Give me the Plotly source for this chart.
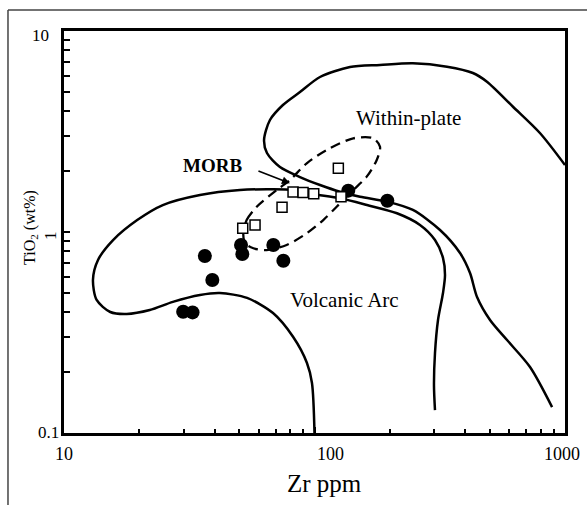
import math
import plotly.graph_objects as go

# ---- data (Zr ppm, TiO2 wt%) ----
circle_zr = [36.5, 39.1, 29.9, 32.6, 50.9, 51.5, 68.5, 75.1, 136.4, 195.3]
circle_ti = [0.760, 0.577, 0.401, 0.398, 0.862, 0.777, 0.862, 0.720, 1.606, 1.431]

square_zr = [51.7, 57.9, 74.2, 82.1, 90.0, 99.3, 124.5, 127.6]
square_ti = [1.043, 1.083, 1.327, 1.581, 1.572, 1.551, 2.074, 1.498]

arc_zr = [100, 97.7, 93.3, 82.1, 68.3, 53.8, 41.9, 34.9, 27.2, 22.0, 17.8, 15.3, 13.5,
          13.05, 13.67, 15.7, 19.6, 24.8, 34.9, 50.4, 68.3, 82.1, 98.6, 126.4, 162.0,
          213.4, 263.7, 302.7, 325.8, 331.9, 325.8, 311.2, 302.7, 299.9, 302.7]
arc_ti = [0.1, 0.1774, 0.223, 0.301, 0.395, 0.470, 0.497, 0.486, 0.449, 0.409, 0.391, 0.400, 0.459,
          0.577, 0.726, 0.912, 1.147, 1.362, 1.528, 1.618, 1.631, 1.618, 1.545, 1.471, 1.362,
          1.239, 1.084, 0.912, 0.743, 0.611, 0.497, 0.365, 0.250, 0.173, 0.130]

wp_zr = [1000, 794, 620, 488, 429, 338, 247, 182.6, 138.6, 105.2, 87.5, 74.8, 66.4, 62.9,
         64.6, 72.8, 87.5, 105.2, 126.4, 152, 194.8, 247, 317, 381, 417.7, 445.5, 502, 587, 725, 888]
wp_ti = [2.154, 3.108, 4.20, 5.594, 6.18, 6.645, 6.908, 6.776, 6.62, 5.904, 4.97, 4.285, 3.607, 2.87,
         2.472, 2.105, 1.877, 1.714, 1.587, 1.498, 1.416, 1.287, 1.023, 0.786, 0.625, 0.475, 0.365,
         0.290, 0.213, 0.1346]

morb_zr = [51.98, 53.6, 58.8, 70.7, 79.8, 93.1, 111.9, 142.8, 171.7, 182.6, 177.2, 161.6, 142.8,
           122.6, 108.4, 93.1, 77.4, 64.4, 57.0, 52.8, 51.98]
morb_ti = [0.985, 1.147, 1.336, 1.618, 1.815, 2.197, 2.559, 2.925, 2.925, 2.657, 2.282, 1.885, 1.618,
           1.336, 1.147, 0.985, 0.862, 0.813, 0.830, 0.879, 0.985]

x_ticks = [10, 100, 1000]
x_ticktext = ["10", "100", "1000"]
y_ticks = [0.1, 1, 10]
y_ticktext = ["0.1", "1", "10"]
x_minor = [m * d for d in (10, 100) for m in range(2, 10)]
y_minor = [m * d for d in (0.1, 1) for m in range(2, 10)]

SERIF = "Liberation Serif, Times New Roman, serif"

fig = go.Figure()
line_style = dict(color="black", width=2.5, shape="spline", smoothing=0.8)
fig.add_trace(go.Scatter(x=arc_zr, y=arc_ti, mode="lines", line=line_style, hoverinfo="skip"))
fig.add_trace(go.Scatter(x=wp_zr, y=wp_ti, mode="lines", line=line_style, hoverinfo="skip"))
fig.add_trace(go.Scatter(x=morb_zr, y=morb_ti, mode="lines",
                         line=dict(color="black", width=2.3, dash="10px,6px", shape="spline", smoothing=0.8),
                         hoverinfo="skip"))
fig.add_trace(go.Scatter(x=circle_zr, y=circle_ti, mode="markers",
                         marker=dict(symbol="circle", size=14, color="black")))
fig.add_trace(go.Scatter(x=square_zr, y=square_ti, mode="markers",
                         marker=dict(symbol="square", size=10, color="white",
                                     line=dict(color="black", width=1.5))))

ann = []
# x tick labels
x_shift = [0, 16, -3]
for v, t, s in zip(x_ticks, x_ticktext, x_shift):
    ann.append(dict(x=math.log10(v), y=0, xref="x", yref="paper", text=t, showarrow=False,
                    xanchor="center", yanchor="top", xshift=s, yshift=-9,
                    font=dict(family=SERIF, size=18, color="black")))
# y tick labels
y_opts = {"0.1": dict(xanchor="right", xshift=-3, yshift=1, textangle=0),
          "1": dict(xanchor="center", xshift=-14, yshift=-4, textangle=-90),
          "10": dict(xanchor="right", xshift=-13, yshift=-4, textangle=0)}
for v, t in zip(y_ticks, y_ticktext):
    o = y_opts[t]
    ann.append(dict(x=0, y=math.log10(v), xref="paper", yref="y", text=t, showarrow=False,
                    xanchor=o["xanchor"], yanchor="middle", xshift=o["xshift"], yshift=o["yshift"],
                    textangle=o["textangle"], font=dict(family=SERIF, size=17, color="black")))
# axis titles
ann.append(dict(x=0, y=0.51, xref="paper", yref="paper", text="TiO<sub>2</sub> (wt%)",
                showarrow=False, textangle=-90, xanchor="center", yanchor="middle", xshift=-33,
                font=dict(family=SERIF, size=16, color="black")))
ann.append(dict(x=0.52, y=0, xref="paper", yref="paper", text="Zr ppm", showarrow=False,
                xanchor="center", yanchor="middle", yshift=-50,
                font=dict(family=SERIF, size=25, color="black")))
# field labels
ann.append(dict(x=1.5928, y=0.3333, xref="x", yref="y", text="<b>MORB</b>", showarrow=False,
                font=dict(family=SERIF, size=19, color="black")))
ann.append(dict(x=2.3772, y=0.5672, xref="x", yref="y", text="Within-plate", showarrow=False,
                font=dict(family=SERIF, size=21, color="black")))
ann.append(dict(x=2.1198, y=-0.3383, xref="x", yref="y", text="Volcanic Arc", showarrow=False,
                font=dict(family=SERIF, size=21, color="black")))
# MORB arrow
ann.append(dict(x=1.902, y=0.2423, xref="x", yref="y", text=" ", showarrow=True,
                ax=-33, ay=-13, arrowhead=2, arrowsize=1, arrowwidth=1.6, arrowcolor="black",
                font=dict(size=1)))

axis_common = dict(type="log", showgrid=False, zeroline=False, showline=True, linecolor="black",
                   linewidth=2.5, mirror=True, ticks="inside", ticklen=6, tickwidth=2,
                   tickcolor="black", showticklabels=False)

fig.update_layout(
    width=587, height=505,
    margin=dict(l=64, r=22, t=31, b=72),
    paper_bgcolor="white", plot_bgcolor="white",
    showlegend=False,
    xaxis=dict(range=[1, 3], tickvals=x_ticks,
               minor=dict(tickvals=x_minor, ticks="inside", ticklen=4, tickwidth=1.5, tickcolor="black"),
               **axis_common),
    yaxis=dict(range=[-1, 1], tickvals=y_ticks,
               minor=dict(tickvals=y_minor, ticks="inside", ticklen=6, tickwidth=1.5, tickcolor="black"),
               **axis_common),
    annotations=ann,
    shapes=[
        dict(type="line", xref="paper", yref="paper", x0=-0.1118, x1=-0.1118, y0=1.0522, y1=-0.2,
             line=dict(color="#444", width=1.5)),
        dict(type="line", xref="paper", yref="paper", x0=-0.1118, x1=1.06, y0=1.0522, y1=1.0522,
             line=dict(color="#444", width=1.5)),
    ],
)

fig.write_html("out.html")
